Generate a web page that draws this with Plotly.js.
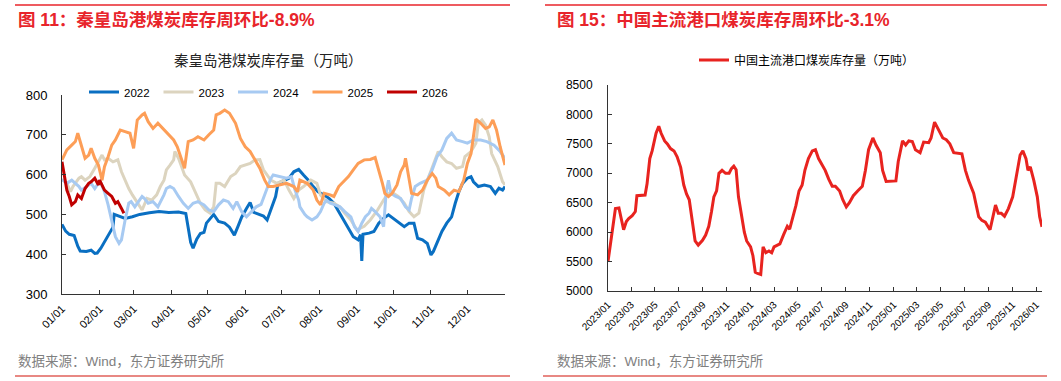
<!DOCTYPE html>
<html>
<head>
<meta charset="utf-8">
<script src="https://cdn.plot.ly/plotly-3.0.1.min.js"></script>
<style>html,body{margin:0;padding:0;background:#fff;}#chart{width:1061px;height:381px;}</style>
</head>
<body>
<div id="chart"></div>
<script>
// ---------- Left chart: 秦皇岛港煤炭库存量 (万吨), x = day of year ----------
const leftTickDays = [0,31,59,90,120,151,181,212,243,273,304,334];
const leftTickLabels = ['01/01','02/01','03/01','04/01','05/01','06/01','07/01','08/01','09/01','10/01','11/01','12/01'];

const days2022 = [0,3,6,10,13,15,20,24,27,29,32,36,39,42,43,46,52,58,64,72,80,88,96,102,104,106,108,111,114,117,119,122,125,129,134,138,142,145,148,152,155,158,162,166,169,173,176,178,183,187,191,195,199,203,207,211,216,220,224,228,232,236,240,244,246,247,248,253,257,261,265,269,273,277,282,286,290,293,297,301,304,306,309,313,317,321,324,327,330,334,337,339,343,348,353,357,360,363,365];
const vals2022 = [475,458,450,447,420,408,407,410,402,403,415,435,452,468,500,497,490,494,500,504,507,505,506,502,470,430,415,438,452,455,478,490,500,482,478,468,448,470,493,515,530,505,500,496,486,519,545,578,586,591,607,613,599,586,570,557,549,540,528,507,486,465,444,436,449,383,450,453,457,478,490,499,490,482,469,478,478,440,436,427,398,407,427,457,478,494,528,557,578,591,595,582,570,574,570,553,566,561,570];

const days2023 = [0,4,7,9,14,16,19,23,27,30,33,35,38,42,46,49,52,55,58,60,63,66,70,74,78,81,84,86,89,92,93,96,99,101,106,110,114,118,122,125,127,130,134,139,143,147,151,155,159,163,166,172,177,183,187,191,195,199,205,210,213,218,224,229,233,238,243,249,254,260,265,269,273,277,282,286,290,294,298,302,306,310,313,317,321,325,330,332,337,341,343,346,349,352,354,359,363,365];
const vals2023 = [588,578,557,570,591,595,586,595,616,632,649,637,641,632,637,607,586,565,549,540,524,511,540,536,549,570,586,612,624,637,658,641,616,599,582,553,528,511,503,519,578,578,570,595,603,620,624,628,637,638,612,586,578,586,561,540,561,570,586,578,549,532,528,519,503,486,461,470,486,511,536,553,553,545,528,507,494,503,561,595,628,658,645,632,628,616,620,645,658,679,729,737,724,695,653,620,582,574];

const days2024 = [0,4,8,11,14,16,20,24,27,30,31,35,38,41,44,47,49,52,55,57,60,63,66,68,71,75,79,84,86,89,92,96,100,104,108,112,117,121,125,129,133,137,141,144,148,152,155,160,164,167,172,174,180,185,189,192,195,196,200,202,206,210,213,216,218,221,225,229,233,238,241,244,247,250,253,255,258,262,265,267,269,271,275,279,283,286,288,291,295,301,305,309,313,317,321,325,330,334,339,345,350,356,361,365];
const vals2024 = [588,578,586,578,570,561,570,578,565,578,586,557,524,486,444,427,436,486,528,532,519,532,545,540,528,532,519,549,565,570,565,545,528,515,528,532,524,511,507,524,536,532,515,532,507,494,503,519,525,549,590,599,595,591,595,561,536,519,500,494,486,494,507,528,536,528,524,519,507,494,469,457,478,494,503,515,507,494,469,553,586,553,545,540,519,511,540,570,578,586,612,645,662,691,704,687,683,679,687,687,683,674,658,641];

const days2025 = [0,4,8,11,13,16,19,22,24,27,30,33,35,38,41,44,48,52,56,59,62,66,68,71,75,79,84,88,92,95,99,101,104,108,112,117,121,125,127,130,134,138,143,147,151,155,159,163,167,170,174,180,185,191,194,196,202,207,210,213,216,221,224,228,232,236,240,244,249,254,258,261,264,266,269,272,276,279,282,283,286,288,293,297,301,305,308,310,315,319,323,327,331,334,337,339,341,345,349,352,355,358,361,365];
const vals2025 = [637,662,674,683,704,670,641,649,666,641,624,586,620,645,674,687,712,708,704,666,737,750,754,733,716,729,712,700,687,670,637,616,683,687,695,687,700,712,750,754,762,754,729,691,670,658,637,616,586,570,570,574,578,570,557,586,578,561,536,524,553,549,545,570,582,595,612,628,637,638,643,612,578,553,545,553,574,607,624,641,586,553,549,561,586,603,591,570,561,549,561,557,586,628,653,700,739,729,716,720,737,712,670,624];

const days2026 = [0,2,4,6,8,11,13,16,19,22,24,27,30,31,35,38,41,44,46,49,51];
const vals2026 = [632,595,561,545,524,532,549,540,565,578,582,591,574,586,561,553,545,528,532,515,503];

const leftYears = ['2022','2023','2024','2025','2026'];
const leftColors = ['#0a6fc2','#dcd4bf','#a7caf2','#fd9e57','#c00000'];

// ---------- Right chart: 中国主流港口煤炭库存量 (万吨) ----------
const rightName = '中国主流港口煤炭库存量（万吨）';
const rightTickLabels = ['2023/01','2023/03','2023/05','2023/07','2023/09','2023/11','2024/01','2024/03','2024/05','2024/07','2024/09','2024/11','2025/01','2025/03','2025/05','2025/07','2025/09','2025/11','2026/01'];
const rightDates = ['2023-01-01','2023-01-07','2023-01-14','2023-01-20','2023-01-29','2023-02-04','2023-02-10','2023-02-17','2023-02-23','2023-03-04','2023-03-12','2023-03-16','2023-03-25','2023-04-06','2023-04-11','2023-04-18','2023-04-24','2023-05-04','2023-05-11','2023-05-17','2023-05-26','2023-06-02','2023-06-10','2023-06-19','2023-06-27','2023-07-06','2023-07-14','2023-07-21','2023-07-28','2023-08-05','2023-08-12','2023-08-20','2023-08-31','2023-09-08','2023-09-16','2023-09-23','2023-09-29','2023-10-06','2023-10-12','2023-10-20','2023-10-29','2023-11-07','2023-11-13','2023-11-19','2023-11-25','2023-12-01','2023-12-10','2023-12-16','2023-12-22','2024-01-01','2024-01-07','2024-01-13','2024-01-19','2024-01-27','2024-02-02','2024-02-09','2024-02-17','2024-02-24','2024-03-01','2024-03-09','2024-03-16','2024-03-25','2024-04-04','2024-04-10','2024-04-18','2024-04-26','2024-05-04','2024-05-12','2024-05-19','2024-05-28','2024-06-07','2024-06-15','2024-06-23','2024-07-01','2024-07-10','2024-07-19','2024-07-28','2024-08-05','2024-08-16','2024-08-24','2024-09-02','2024-09-10','2024-09-20','2024-10-01','2024-10-13','2024-10-21','2024-10-29','2024-11-09','2024-11-17','2024-11-28','2024-12-04','2024-12-13','2024-12-25','2025-01-07','2025-01-13','2025-01-24','2025-02-01','2025-02-09','2025-02-18','2025-02-26','2025-03-10','2025-03-19','2025-04-01','2025-04-07','2025-04-16','2025-04-25','2025-05-07','2025-05-16','2025-05-25','2025-06-04','2025-06-16','2025-06-25','2025-07-04','2025-07-12','2025-07-25','2025-08-07','2025-08-15','2025-08-24','2025-09-05','2025-09-12','2025-09-19','2025-09-26','2025-10-04','2025-10-12','2025-10-22','2025-11-02','2025-11-13','2025-11-21','2025-11-28','2025-12-06','2025-12-11','2025-12-17','2025-12-26','2026-01-04','2026-01-10','2026-01-16'];
const rightValues = [5500,5800,6150,6400,6410,6250,6040,6180,6230,6280,6350,6620,6620,6630,6820,7250,7380,7680,7800,7680,7550,7500,7420,7380,7280,7100,6800,6650,6550,6150,5850,5780,5860,5950,6100,6350,6600,6700,7000,7050,7000,7000,7080,7120,7060,6600,6250,6000,5850,5750,5600,5320,5300,5280,5750,5650,5680,5650,5750,5780,5800,5950,6100,6050,6250,6450,6700,6800,7050,7250,7380,7400,7250,7150,7050,6900,6780,6780,6700,6550,6430,6500,6620,6700,6780,7050,7400,7600,7480,7350,7050,6860,6860,6870,7200,7550,7480,7550,7540,7400,7350,7530,7520,7600,7870,7750,7600,7570,7500,7350,7340,7330,7050,6880,6660,6260,6200,6170,6040,6260,6460,6320,6320,6270,6400,6600,7050,7310,7380,7250,7050,7110,6880,6600,6260,6090];

// ---------- Texts ----------
const leftHeading = '图 11：秦皇岛港煤炭库存周环比-8.9%';
const rightHeading = '图 15：中国主流港口煤炭库存周环比-3.1%';
const leftChartTitle = '秦皇岛港煤炭库存量（万吨）';
const sourceText = '数据来源：Wind，东方证券研究所';

// ---------- Build ----------
const W = 1061, H = 381;
const px = x => x / W;
const py = y => 1 - y / H;
const FONT = 'Liberation Sans, Arial, Noto Sans CJK SC, sans-serif';
const CJK = 'Liberation Sans, Arial, Noto Sans CJK SC, sans-serif';

const leftDays = [days2022, days2023, days2024, days2025, days2026];
const leftVals = [vals2022, vals2023, vals2024, vals2025, vals2026];

const traces = leftYears.map((yr, i) => ({
  type: 'scatter', mode: 'lines', name: yr,
  x: leftDays[i], y: leftVals[i],
  xaxis: 'x', yaxis: 'y', legend: 'legend',
  line: {color: leftColors[i], width: 3}
}));
traces.push({
  type: 'scatter', mode: 'lines', name: rightName,
  x: rightDates, y: rightValues,
  xaxis: 'x2', yaxis: 'y2', legend: 'legend2',
  line: {color: '#e8231f', width: 3}
});

const axisCommon = {
  showline: true, linecolor: '#333', linewidth: 1,
  ticks: 'inside', ticklen: 4, tickcolor: '#333',
  showgrid: false, zeroline: false, fixedrange: true
};

const rightTickVals = rightTickLabels.map(s => s.replace('/', '-') + '-01');

const layout = {
  width: W, height: H,
  margin: {l: 0, r: 0, t: 0, b: 0},
  paper_bgcolor: '#fff', plot_bgcolor: '#fff',
  font: {family: FONT, size: 12, color: '#000'},
  showlegend: true,
  xaxis: Object.assign({}, axisCommon, {
    domain: [px(62), px(505)], range: [0, 365], anchor: 'y',
    tickmode: 'array', tickvals: leftTickDays.concat([365]), ticktext: leftTickLabels.concat(['']),
    tickangle: -45, tickfont: {size: 11}, ticklabelstandoff: 3
  }),
  yaxis: Object.assign({}, axisCommon, {
    domain: [py(294), py(95)], range: [300, 800], dtick: 100, anchor: 'x',
    tickfont: {size: 13}, ticklabelstandoff: 11
  }),
  xaxis2: Object.assign({}, axisCommon, {
    type: 'date', domain: [px(608), px(1042)], range: ['2023-01-01', '2026-01-16'], anchor: 'y2',
    tickmode: 'array', tickvals: rightTickVals.concat(['2026-01-16']), ticktext: rightTickLabels.concat(['']),
    tickangle: -45, tickfont: {size: 10}, ticklabelstandoff: 3
  }),
  yaxis2: Object.assign({}, axisCommon, {
    domain: [py(291), py(85)], range: [5000, 8500], dtick: 500, anchor: 'x2',
    tickfont: {size: 12}, ticklabelstandoff: 12
  }),
  legend: {
    orientation: 'h', x: px(84), y: py(92), xanchor: 'left', yanchor: 'middle',
    entrywidth: 29.5, font: {size: 11.5, color: '#000'}, bgcolor: 'rgba(0,0,0,0)'
  },
  legend2: {
    orientation: 'h', x: px(694), y: py(60), xanchor: 'left', yanchor: 'middle',
    font: {size: 12, color: '#000', family: CJK}, bgcolor: 'rgba(0,0,0,0)'
  },
  annotations: [
    {text: leftHeading, x: px(16), y: py(20), xref: 'paper', yref: 'paper', xanchor: 'left', yanchor: 'middle',
     showarrow: false, font: {size: 17.5, color: '#e8242b', family: CJK, weight: 'bold'}},
    {text: rightHeading, x: px(555), y: py(20), xref: 'paper', yref: 'paper', xanchor: 'left', yanchor: 'middle',
     showarrow: false, font: {size: 17.5, color: '#e8242b', family: CJK, weight: 'bold'}},
    {text: leftChartTitle, x: px(268), y: py(61), xref: 'paper', yref: 'paper', xanchor: 'center', yanchor: 'middle',
     showarrow: false, font: {size: 14.5, color: '#222', family: CJK}},
    {text: sourceText, x: px(16), y: py(361), xref: 'paper', yref: 'paper', xanchor: 'left', yanchor: 'middle',
     showarrow: false, font: {size: 13.5, color: '#808080', family: CJK}},
    {text: sourceText, x: px(555), y: py(361), xref: 'paper', yref: 'paper', xanchor: 'left', yanchor: 'middle',
     showarrow: false, font: {size: 13.5, color: '#808080', family: CJK}}
  ],
  shapes: [
    {type: 'line', xref: 'paper', yref: 'paper', x0: px(15), x1: px(510), y0: py(5), y1: py(5), line: {color: '#e8242b', width: 1.5}},
    {type: 'line', xref: 'paper', yref: 'paper', x0: px(545), x1: px(1047), y0: py(5), y1: py(5), line: {color: '#e8242b', width: 1.5}},
    {type: 'line', xref: 'paper', yref: 'paper', x0: px(15), x1: px(510), y0: py(376), y1: py(376), line: {color: '#e0605a', width: 1.5}},
    {type: 'line', xref: 'paper', yref: 'paper', x0: px(543), x1: px(1047), y0: py(376), y1: py(376), line: {color: '#e0605a', width: 1.5}}
  ]
};

Plotly.newPlot('chart', traces, layout, {displayModeBar: false, staticPlot: true});
</script>
</body>
</html>
